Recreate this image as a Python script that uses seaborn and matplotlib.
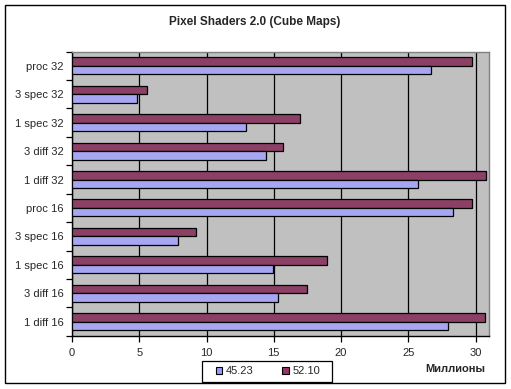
import matplotlib
matplotlib.use("Agg")
import matplotlib.pyplot as plt
import matplotlib.patches as mpatches
import seaborn as sns
import pandas as pd
import numpy as np

categories = ["proc 32", "3 spec 32", "1 spec 32", "3 diff 32", "1 diff 32",
              "proc 16", "3 spec 16", "1 spec 16", "3 diff 16", "1 diff 16"]
series_names = ["45.23", "52.10"]
vals_4523 = [26.7, 4.8, 12.9, 14.4, 25.7, 28.3, 7.85, 14.95, 15.35, 27.95]
vals_5210 = [29.7, 5.6, 16.95, 15.65, 30.8, 29.75, 9.2, 18.95, 17.5, 30.7]
x_ticks = [0, 5, 10, 15, 20, 25, 30]
colors = {"45.23": "#9999FF", "52.10": "#993366"}

df = pd.DataFrame({
    "cat": categories * 2,
    "series": ["45.23"] * len(categories) + ["52.10"] * len(categories),
    "value": vals_4523 + vals_5210,
})

sns.set_style("white")
plt.rcParams["font.family"] = ["Liberation Sans", "DejaVu Sans"]

fig = plt.figure(figsize=(5.11, 3.89), dpi=100)
ax = fig.add_axes([72 / 511, 1 - 335.7 / 389, (489 - 72) / 511, (335.7 - 51.7) / 389])
ax.set_facecolor("#C0C0C0")

sns.barplot(data=df, y="cat", x="value", hue="series", order=categories,
            hue_order=["52.10", "45.23"], palette=colors, orient="h",
            width=0.6, edgecolor="black", linewidth=0.9, ax=ax, legend=False,
            zorder=3)

ax.set_xlim(0, 31)
ax.set_ylim(len(categories) - 0.5, -0.5)
ax.set_xticks(x_ticks)
ax.set_xticklabels([str(t) for t in x_ticks], fontsize=8)
ax.xaxis.grid(True, color="black", linewidth=0.9, zorder=1)
ax.yaxis.grid(False)
ax.set_axisbelow(True)

# y ticks: marks at boundaries, labels at centres
ax.set_yticks(np.arange(-0.5, len(categories), 1.0))
ax.set_yticklabels([])
ax.set_yticks(np.arange(len(categories)), minor=True)
ax.set_yticklabels(categories, minor=True, fontsize=8)
ax.tick_params(axis="y", which="major", length=4, width=0.9, color="black", direction="out", left=True)
ax.tick_params(axis="y", which="minor", length=0, pad=6)
ax.tick_params(axis="x", length=4, width=0.9, color="black", direction="out", bottom=True, pad=5)
ax.set_xlabel("")
ax.set_ylabel("")

for s in ["left", "bottom"]:
    ax.spines[s].set_color("black")
    ax.spines[s].set_linewidth(1.0)
for s in ["top", "right"]:
    ax.spines[s].set_color("#808080")
    ax.spines[s].set_linewidth(1.0)
    ax.spines[s].set_visible(True)

fig.text(255 / 511, 1 - 22 / 389, "Pixel Shaders 2.0 (Cube Maps)", ha="center", va="center",
         fontsize=8.5, fontweight="bold")
fig.text(455 / 511, 1 - 369 / 389, "Миллионы", ha="center", va="center",
         fontsize=8, fontweight="bold")

# legend entries (no frame) plus a separate box like Excel's legend
handles = [mpatches.Patch(facecolor=colors[n], edgecolor="black", linewidth=0.8, label=n)
           for n in series_names]
leg = fig.legend(handles=handles, loc="center", bbox_to_anchor=(268 / 511, 1 - 371.5 / 389),
                 ncol=2, fontsize=8, frameon=False, handlelength=0.6,
                 handleheight=0.6, handletextpad=0.3, columnspacing=2.6, borderpad=0,
                 borderaxespad=0)

fig.patches.append(mpatches.Rectangle((202 / 511, 1 - 382 / 389), 130 / 511, 21 / 389,
                                      transform=fig.transFigure, fill=False,
                                      edgecolor="black", linewidth=0.9))
fig.patches.append(mpatches.Rectangle((5 / 511, 1 - 383 / 389), 500 / 511, 378 / 389,
                                      transform=fig.transFigure, fill=False,
                                      edgecolor="black", linewidth=1.0))

fig.savefig("out.png", dpi=100, facecolor="white")
